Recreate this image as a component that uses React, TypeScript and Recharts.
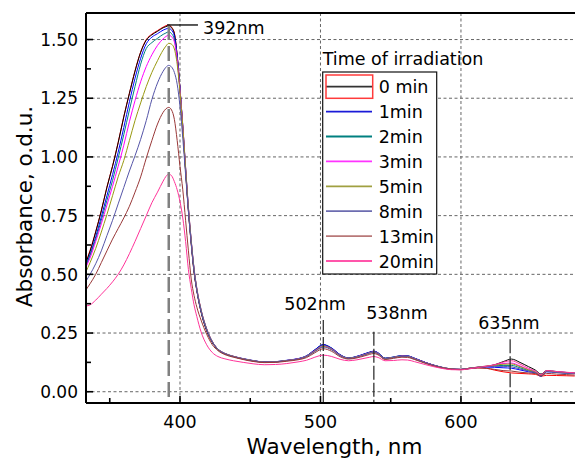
import React from 'react';
import { LineChart, Line, XAxis, YAxis, CartesianGrid, ReferenceLine, Legend } from 'recharts';

const FONT = "'DejaVu Sans', 'Liberation Sans', sans-serif";

// Wavelength grid (nm)
const wavelengths = [
  333, 336, 340, 344, 348, 352, 356, 360, 364, 368,
  372, 376, 380, 384, 388, 390, 392, 394, 396, 398,
  400, 402, 404, 406, 408, 410, 412, 415, 419, 423,
  427, 432, 438, 445, 452, 460, 468, 476, 484, 490,
  496, 502, 508, 514, 520, 526, 531, 535, 538, 541,
  546, 552, 558, 562, 567, 575, 585, 593, 600, 606,
  612, 618, 624, 630, 636, 642, 648, 653, 657, 661,
  668, 675, 681,
];

// red trace (unlabelled, drawn under 0 min)
const redTrace = [
  0.552, 0.602, 0.682, 0.772, 0.872, 0.962, 1.062, 1.172, 1.272, 1.367,
  1.447, 1.5, 1.523, 1.538, 1.553, 1.559, 1.562, 1.553, 1.527, 1.432,
  1.29, 1.12, 0.94, 0.77, 0.63, 0.51, 0.43, 0.34, 0.26, 0.21,
  0.18, 0.161, 0.149, 0.139, 0.131, 0.126, 0.127, 0.132, 0.139, 0.151,
  0.177, 0.199, 0.184, 0.156, 0.142, 0.149, 0.159, 0.167, 0.171, 0.164,
  0.141, 0.146, 0.152, 0.151, 0.141, 0.123, 0.105, 0.096, 0.095, 0.1,
  0.102, 0.1, 0.092, 0.085, 0.08, 0.078, 0.076, 0.074, 0.066, 0.07,
  0.069, 0.068, 0.067,
];
const min0 = [
  0.548, 0.598, 0.68, 0.77, 0.87, 0.96, 1.06, 1.17, 1.27, 1.365,
  1.445, 1.497, 1.52, 1.535, 1.55, 1.555, 1.558, 1.55, 1.525, 1.43,
  1.29, 1.12, 0.94, 0.77, 0.63, 0.51, 0.43, 0.34, 0.26, 0.21,
  0.18, 0.162, 0.15, 0.14, 0.132, 0.127, 0.128, 0.133, 0.14, 0.152,
  0.178, 0.2, 0.185, 0.157, 0.143, 0.15, 0.16, 0.168, 0.172, 0.165,
  0.142, 0.147, 0.153, 0.152, 0.142, 0.124, 0.106, 0.097, 0.095, 0.1,
  0.104, 0.108, 0.115, 0.128, 0.139, 0.125, 0.107, 0.092, 0.075, 0.09,
  0.086, 0.082, 0.08,
];
const min1 = [
  0.54, 0.585, 0.66, 0.745, 0.835, 0.925, 1.02, 1.125, 1.235, 1.335,
  1.42, 1.482, 1.51, 1.525, 1.54, 1.545, 1.548, 1.54, 1.515, 1.43,
  1.29, 1.13, 0.95, 0.78, 0.64, 0.52, 0.435, 0.345, 0.265, 0.213,
  0.182, 0.163, 0.151, 0.141, 0.133, 0.127, 0.128, 0.134, 0.141, 0.153,
  0.179, 0.201, 0.186, 0.158, 0.144, 0.151, 0.161, 0.169, 0.173, 0.166,
  0.143, 0.148, 0.154, 0.153, 0.143, 0.124, 0.106, 0.097, 0.095, 0.099,
  0.103, 0.105, 0.104, 0.102, 0.1, 0.093, 0.085, 0.08, 0.066, 0.085,
  0.082, 0.079, 0.077,
];
const min2 = [
  0.535, 0.58, 0.65, 0.73, 0.815, 0.9, 0.995, 1.095, 1.2, 1.3,
  1.395, 1.462, 1.487, 1.505, 1.522, 1.528, 1.533, 1.525, 1.5, 1.42,
  1.285, 1.13, 0.95, 0.78, 0.64, 0.52, 0.435, 0.345, 0.265, 0.212,
  0.181, 0.162, 0.15, 0.14, 0.132, 0.126, 0.127, 0.133, 0.14, 0.152,
  0.177, 0.198, 0.184, 0.156, 0.143, 0.15, 0.159, 0.167, 0.171, 0.164,
  0.142, 0.147, 0.153, 0.152, 0.142, 0.123, 0.105, 0.097, 0.095, 0.1,
  0.104, 0.107, 0.11, 0.112, 0.112, 0.102, 0.09, 0.082, 0.067, 0.087,
  0.083, 0.08, 0.078,
];
const min3 = [
  0.53, 0.57, 0.64, 0.715, 0.795, 0.875, 0.96, 1.05, 1.15, 1.24,
  1.32, 1.385, 1.435, 1.475, 1.503, 1.513, 1.519, 1.512, 1.49, 1.415,
  1.285, 1.135, 0.955, 0.785, 0.645, 0.525, 0.44, 0.35, 0.268, 0.214,
  0.182, 0.163, 0.151, 0.14, 0.132, 0.126, 0.127, 0.133, 0.14, 0.151,
  0.175, 0.195, 0.182, 0.155, 0.142, 0.149, 0.158, 0.166, 0.17, 0.163,
  0.141, 0.146, 0.152, 0.151, 0.141, 0.123, 0.105, 0.097, 0.095, 0.1,
  0.105, 0.109, 0.114, 0.12, 0.122, 0.11, 0.095, 0.085, 0.07, 0.089,
  0.085, 0.082, 0.08,
];
const min5 = [
  0.51, 0.55, 0.61, 0.68, 0.755, 0.835, 0.915, 0.985, 1.07, 1.155,
  1.23, 1.3, 1.36, 1.41, 1.455, 1.472, 1.484, 1.48, 1.46, 1.395,
  1.275, 1.13, 0.955, 0.785, 0.645, 0.525, 0.44, 0.35, 0.268, 0.214,
  0.182, 0.163, 0.151, 0.14, 0.132, 0.126, 0.127, 0.133, 0.139, 0.15,
  0.173, 0.193, 0.18, 0.154, 0.142, 0.148, 0.157, 0.165, 0.169, 0.162,
  0.141, 0.146, 0.151, 0.15, 0.14, 0.122, 0.105, 0.097, 0.095, 0.1,
  0.105, 0.109, 0.113, 0.117, 0.118, 0.107, 0.093, 0.084, 0.069, 0.088,
  0.084, 0.081, 0.079,
];
const min8 = [
  0.47, 0.5, 0.545, 0.6, 0.665, 0.73, 0.8, 0.87, 0.94, 1.005,
  1.075, 1.155, 1.245, 1.315, 1.365, 1.382, 1.39, 1.383, 1.36, 1.31,
  1.215, 1.08, 0.925, 0.77, 0.635, 0.52, 0.435, 0.347, 0.266, 0.213,
  0.181, 0.162, 0.15, 0.139, 0.131, 0.126, 0.127, 0.132, 0.139, 0.149,
  0.171, 0.19, 0.178, 0.153, 0.141, 0.147, 0.156, 0.164, 0.168, 0.161,
  0.14, 0.145, 0.15, 0.149, 0.139, 0.122, 0.104, 0.096, 0.095, 0.099,
  0.104, 0.107, 0.108, 0.108, 0.106, 0.097, 0.088, 0.081, 0.067, 0.086,
  0.082, 0.079, 0.077,
];
const min13 = [
  0.433, 0.46, 0.5, 0.55, 0.6, 0.65, 0.695, 0.74, 0.79, 0.85,
  0.915, 0.995, 1.07, 1.14, 1.19, 1.205, 1.211, 1.2, 1.16, 1.07,
  0.96, 0.86, 0.73, 0.6, 0.48, 0.41, 0.36, 0.305, 0.245, 0.2,
  0.175, 0.158, 0.147, 0.137, 0.129, 0.124, 0.125, 0.13, 0.136, 0.145,
  0.166, 0.183, 0.172, 0.149, 0.139, 0.144, 0.152, 0.159, 0.163, 0.157,
  0.137, 0.142, 0.147, 0.146, 0.137, 0.12, 0.103, 0.096, 0.094, 0.098,
  0.101, 0.1, 0.095, 0.09, 0.088, 0.083, 0.08, 0.077, 0.068, 0.078,
  0.075, 0.073, 0.071,
];
const min20 = [
  0.365, 0.37, 0.39, 0.415, 0.44, 0.468, 0.5, 0.54, 0.588, 0.64,
  0.695, 0.75, 0.805, 0.85, 0.897, 0.917, 0.927, 0.92, 0.895, 0.86,
  0.81, 0.74, 0.64, 0.52, 0.44, 0.37, 0.32, 0.255, 0.2, 0.167,
  0.15, 0.14, 0.132, 0.125, 0.119, 0.115, 0.116, 0.12, 0.127, 0.134,
  0.147, 0.156, 0.15, 0.138, 0.132, 0.136, 0.142, 0.147, 0.15, 0.146,
  0.132, 0.133, 0.136, 0.135, 0.128, 0.115, 0.101, 0.094, 0.093, 0.098,
  0.103, 0.108, 0.115, 0.126, 0.132, 0.118, 0.1, 0.088, 0.072, 0.09,
  0.086, 0.083, 0.08,
];

const legendNames = ['0 min', '1min', '2min', '3min', '5min', '8min', '13min', '20min'];
const xTicks = [350, 400, 450, 500, 550, 600, 650];
const xLabelTicks = [400, 500, 600];
const yTicks = [0, 0.125, 0.25, 0.375, 0.5, 0.625, 0.75, 0.875, 1, 1.125, 1.25, 1.375, 1.5];
const yLabelTicks = [0, 0.25, 0.5, 0.75, 1, 1.25, 1.5];
const peakNm = [392, 502, 538, 635];
const peakTop = [1.562, 0.305, 0.255, 0.223];
const peakLabels = ['392nm', '502nm', '538nm', '635nm'];

const X_DOMAIN: [number, number] = [333.1, 682.6];
const Y_DOMAIN: [number, number] = [-0.048, 1.613];

const series = [
  { key: 'red', data: redTrace, color: '#ff0000' },
  { key: 'm0', data: min0, color: '#000000' },
  { key: 'm1', data: min1, color: '#0000ff' },
  { key: 'm2', data: min2, color: '#008080' },
  { key: 'm3', data: min3, color: '#ff00ff' },
  { key: 'm5', data: min5, color: '#999911' },
  { key: 'm8', data: min8, color: '#5555a8' },
  { key: 'm13', data: min13, color: '#993838' },
  { key: 'm20', data: min20, color: '#ff3399' },
];
const legendColors = ['#333333', '#1a1ad8', '#008080', '#ff33ff', '#a0a040', '#6c6cb0', '#b87878', '#ff55aa'];

const chartData = wavelengths.map((wl, i) => {
  const row: Record<string, number> = { wl };
  series.forEach((s) => {
    row[s.key] = s.data[i];
  });
  return row;
});

const XTick = (p: any) => {
  const { x, y, payload } = p;
  const v = payload.value;
  const major = xLabelTicks.includes(v);
  return (
    <g>
      <line x1={x} y1={y} x2={x} y2={y - (major ? 7 : 5)} stroke="#000" strokeWidth={1.6} />
      {major && (
        <text x={x} y={y + 25} textAnchor="middle" fontFamily={FONT} fontSize={17.5} fill="#000">
          {v}
        </text>
      )}
    </g>
  );
};

const YTick = (p: any) => {
  const { x, y, payload } = p;
  const v = payload.value;
  const major = yLabelTicks.some((t) => Math.abs(t - v) < 1e-9);
  return (
    <g>
      <line x1={x} y1={y} x2={x + (major ? 7 : 5)} y2={y} stroke="#000" strokeWidth={1.6} />
      {major && (
        <text x={x - 8} y={y + 6.2} textAnchor="end" fontFamily={FONT} fontSize={17} fill="#000">
          {v.toFixed(2)}
        </text>
      )}
    </g>
  );
};

const XTitle = (p: any) => {
  const vb = p.viewBox || { x: 86, y: 403, width: 491, height: 56 };
  return (
    <text x={vb.x + vb.width / 2 + 3} y={vb.y + 51} textAnchor="middle" fontFamily={FONT} fontSize={21.5} fill="#000">
      Wavelength, nm
    </text>
  );
};

const YTitle = (p: any) => {
  const vb = p.viewBox || { x: 0, y: 13, width: 86, height: 390 };
  const cx = vb.x + 31.5;
  const cy = vb.y + vb.height / 2 - 1.5;
  return (
    <text x={cx} y={cy} transform={`rotate(-90 ${cx} ${cy})`} textAnchor="middle" fontFamily={FONT} fontSize={21.5} fill="#000">
      Absorbance, o.d.u.
    </text>
  );
};

// label offsets (style) for each annotation, relative to top of its marker line
const labelOffsets: Record<string, { dx: number; dy: number }> = {
  '392nm': { dx: 36, dy: 9.5 },
  '502nm': { dx: -39, dy: -10 },
  '538nm': { dx: -7.7, dy: -12.4 },
  '635nm': { dx: -32, dy: -10 },
};

const markerShape = (label: string | null) => (p: any) => {
  const top = Math.min(p.y1, p.y2);
  const left = Math.min(p.x1, p.x2);
  return (
    <g>
      <line x1={p.x1} y1={p.y1} x2={p.x2} y2={p.y2} stroke="#222" strokeWidth={1.2} strokeDasharray="14 3" />
      {label && (
        <text x={left + labelOffsets[label].dx} y={top + labelOffsets[label].dy} fontFamily={FONT} fontSize={17.5} fill="#000">
          {label}
        </text>
      )}
    </g>
  );
};

const mainDashShape = (p: any) => (
  <line x1={p.x1} y1={p.y1} x2={p.x2} y2={p.y2} stroke="#808080" strokeWidth={2.5} strokeDasharray="15 6" />
);

const leaderShape = (label: string) => (p: any) => {
  const left = Math.min(p.x1, p.x2);
  const right = Math.max(p.x1, p.x2);
  return (
    <g>
      <line x1={left} y1={p.y1} x2={right} y2={p.y2} stroke="#000" strokeWidth={1.3} />
      <text x={left + labelOffsets[label].dx} y={p.y1 + labelOffsets[label].dy} fontFamily={FONT} fontSize={17.5} fill="#000">
        {label}
      </text>
    </g>
  );
};

const LegendContent = () => (
  <svg width={575} height={459} style={{ display: 'block' }}>
    <text x={322.7} y={65} fontFamily={FONT} fontSize={17.5} fill="#000">
      Time of irradiation
    </text>
    <rect x={322.7} y={72} width={114} height={202} fill="#fff" stroke="#111" strokeWidth={1.2} />
    {legendNames.map((name, i) => {
      const cy = 86.7 + i * 24.9;
      return (
        <g key={name}>
          <line x1={326} x2={372} y1={cy} y2={cy} stroke={legendColors[i]} strokeWidth={1.8} />
          <text x={378.7} y={cy + 6.6} fontFamily={FONT} fontSize={17.5} fill="#000">
            {name}
          </text>
        </g>
      );
    })}
    <rect x={326} y={75} width={46.7} height={23.3} fill="none" stroke="#ff3b3b" strokeWidth={1.5} />
  </svg>
);

export default function App() {
  return (
    <div style={{ position: 'absolute', left: 0, top: 0, width: 575, height: 459, overflow: 'hidden', background: '#fff' }}>
      <LineChart width={580} height={459} data={chartData} margin={{ top: 13, right: 3, bottom: 0, left: 0 }}>
        <CartesianGrid
          stroke="#666"
          strokeDasharray="3 2.5"
          horizontalValues={yLabelTicks}
          verticalValues={xLabelTicks}
        />
        <XAxis
          dataKey="wl"
          type="number"
          domain={X_DOMAIN}
          allowDataOverflow
          ticks={xTicks}
          interval={0}
          tick={XTick}
          tickLine={false}
          tickSize={0}
          tickMargin={0}
          height={56}
          axisLine={{ stroke: '#000', strokeWidth: 2 }}
          label={XTitle}
        />
        <YAxis
          type="number"
          domain={Y_DOMAIN}
          allowDataOverflow
          ticks={yTicks}
          interval={0}
          tick={YTick}
          tickLine={false}
          tickSize={0}
          tickMargin={0}
          width={86}
          axisLine={{ stroke: '#000', strokeWidth: 2 }}
          label={YTitle}
        />
        {series.map((s) => (
          <Line
            key={s.key}
            type="monotone"
            dataKey={s.key}
            stroke={s.color}
            strokeWidth={1}
            dot={false}
            activeDot={false}
            isAnimationActive={false}
          />
        ))}
        <ReferenceLine y={Y_DOMAIN[1]} ifOverflow="visible" stroke="#000" strokeWidth={2} />
        <ReferenceLine
          segment={[{ x: peakNm[0], y: peakTop[0] }, { x: peakNm[0], y: Y_DOMAIN[0] }]}
          ifOverflow="visible"
          shape={mainDashShape}
        />
        <ReferenceLine
          segment={[{ x: 390.8, y: peakTop[0] }, { x: 412.8, y: peakTop[0] }]}
          ifOverflow="visible"
          shape={leaderShape(peakLabels[0])}
        />
        {peakNm.slice(1).map((nm, i) => (
          <ReferenceLine
            key={nm}
            segment={[{ x: nm, y: peakTop[i + 1] }, { x: nm, y: Y_DOMAIN[0] }]}
            ifOverflow="visible"
            shape={markerShape(peakLabels[i + 1])}
          />
        ))}
        <Legend
          layout="vertical"
          align="center"
          verticalAlign="middle"
          content={LegendContent}
          wrapperStyle={{ left: 0, top: 0, width: 575, height: 459, pointerEvents: 'none' }}
        />
      </LineChart>
    </div>
  );
}
